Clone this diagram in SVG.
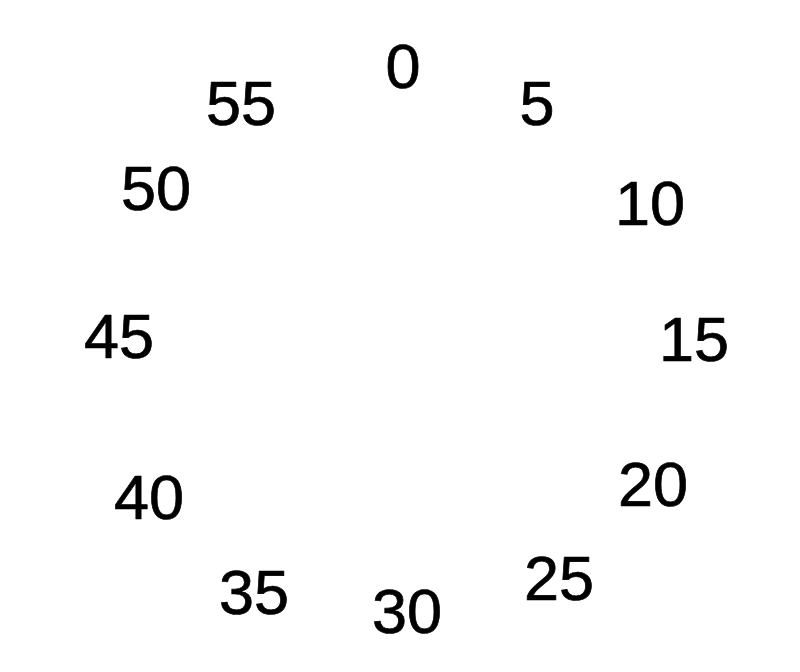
<svg xmlns="http://www.w3.org/2000/svg" width="800" height="672" viewBox="0 0 800 672">
<style>
.n{font-family:"Liberation Sans",Arial,sans-serif;font-size:63px;fill:#000;stroke:#000;stroke-width:0.7;stroke-linejoin:round;text-anchor:middle}
</style>
<rect width="800" height="672" fill="#fff"/>
<g id="n0"><text class="n" x="403" y="88">0</text></g>
<g id="n5"><text class="n" x="537" y="125">5</text></g>
<g id="n10"><text class="n" x="650" y="225">10</text></g>
<g id="n15"><text class="n" x="694" y="361">15</text></g>
<g id="n20"><text class="n" x="653" y="506">20</text></g>
<g id="n25"><text class="n" x="559" y="600">25</text></g>
<g id="n30"><text class="n" x="407" y="633">30</text></g>
<g id="n35"><text class="n" x="254" y="614">35</text></g>
<g id="n40"><text class="n" x="149" y="519">40</text></g>
<g id="n45"><text class="n" x="119" y="358">45</text></g>
<g id="n50"><text class="n" x="156" y="210">50</text></g>
<g id="n55"><text class="n" x="241" y="125">55</text></g>
<g id="connectors"/>
</svg>
